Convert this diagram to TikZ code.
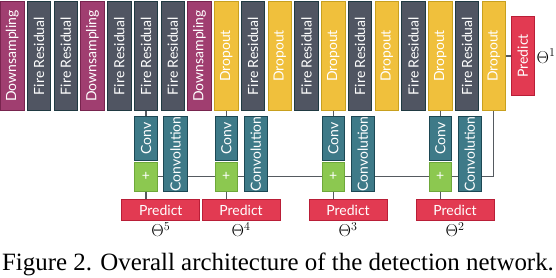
\documentclass[tikz,border=0pt]{standalone}
\usepackage{fontspec}
\usepackage{graphicx}
\newfontfamily\blockfont{Lato}
\newfontfamily\captionfont{Liberation Serif}
\usetikzlibrary{positioning, calc}

\definecolor{downfill}{RGB}{160,62,112}
\definecolor{downline}{RGB}{120,36,78}
\definecolor{firefill}{RGB}{80,85,98}
\definecolor{fireline}{RGB}{32,58,66}
\definecolor{dropfill}{RGB}{240,192,60}
\definecolor{dropline}{RGB}{200,160,30}
\definecolor{convfill}{RGB}{62,122,136}
\definecolor{convline}{RGB}{28,72,84}
\definecolor{plusfill}{RGB}{140,200,80}
\definecolor{plusline}{RGB}{110,168,58}
\definecolor{predfill}{RGB}{226,58,82}
\definecolor{predline}{RGB}{185,30,55}
\definecolor{linkgray}{RGB}{85,90,96}

\newcommand{\vlabel}[1]{\rotatebox{90}{#1}}

\begin{document}
\begin{tikzpicture}[
			x=1pt, y=1pt,
			node distance=2.25pt,
			block/.style={draw, line width=1pt, inner sep=0pt, text=white, font=\blockfont\fontsize{14}{14}\selectfont},
			down/.style={block, fill=downfill, draw=downline, minimum width=23.5pt, minimum height=109pt},
			fire/.style={block, fill=firefill, draw=fireline, minimum width=23.5pt, minimum height=109pt},
			drop/.style={block, fill=dropfill, draw=dropline, minimum width=23.5pt, minimum height=109pt},
			conv/.style={block, fill=convfill, draw=convline, minimum width=22.5pt, minimum height=44pt},
			convo/.style={block, fill=convfill, draw=convline, minimum width=23.5pt, minimum height=75pt},
			plus/.style={block, fill=plusfill, draw=plusline, minimum width=22.5pt, minimum height=29pt},
			predict/.style={block, fill=predfill, draw=predline, minimum width=78pt, minimum height=21.5pt},
			predtop/.style={predict, minimum width=22.5pt, minimum height=78pt},
			theta/.style={inner sep=0pt, font=\fontsize{17}{19}\selectfont},
			link/.style={draw=linkgray, line width=1.1pt}
			]
			\useasboundingbox (0,0) rectangle (556,-278);
			
			% Backbone
			\node[down] (down1) at (12.25,-56) {\vlabel{Downsampling}};
			\node[fire, right=of down1] (fire1) {\vlabel{Fire Residual}};
			\node[fire, right=of fire1] (fire2) {\vlabel{Fire Residual}};
			\node[down, right=of fire2] (down2) {\vlabel{Downsampling}};
			\node[fire, right=of down2] (fire3) {\vlabel{Fire Residual}};
			\node[fire, right=of fire3] (fire4) {\vlabel{Fire Residual}};
			\node[fire, right=of fire4] (fire5) {\vlabel{Fire Residual}};
			\node[down, right=of fire5] (down3) {\vlabel{Downsampling}};
			\node[drop, right=of down3] (drop1) {\vlabel{Dropout}};
			\node[fire, right=of drop1] (fire6) {\vlabel{Fire Residual}};
			\node[drop, right=of fire6] (drop2) {\vlabel{Dropout}};
			\node[fire, right=of drop2] (fire7) {\vlabel{Fire Residual}};
			\node[drop, right=of fire7] (drop3) {\vlabel{Dropout}};
			\node[fire, right=of drop3] (fire8) {\vlabel{Fire Residual}};
			\node[drop, right=of fire8] (drop4) {\vlabel{Dropout}};
			\node[fire, right=of drop4] (fire9) {\vlabel{Fire Residual}};
			\node[drop, right=of fire9] (drop5) {\vlabel{Dropout}};
			\node[fire, right=of drop5] (fire10) {\vlabel{Fire Residual}};
			\node[drop, right=of fire10] (drop6) {\vlabel{Dropout}};
			
			% Top prediction
			\node[predtop, right=5pt of drop6] (predict1) {\vlabel{Predict}};
			\node[theta, right=2pt of predict1] (theta1) {$\Theta^1$};
			
			% Scale 5
			\node[conv, below=5pt of fire4] (conv5) {\vlabel{Conv}};
			\node[plus, below=0.7pt of conv5] (plus5) {+};
			\node[convo, anchor=north west] (convo5) at ([xshift=5.5pt]conv5.north east) {\vlabel{Convolution}};
			\node[predict, anchor=north] (predict5) at ($(plus5.south)!0.5!(convo5.south)+(0,-7)$) {Predict};
			\node[theta, below=1pt of predict5] (theta5) {$\Theta^5$};
			
			% Scale 4
			\node[conv, below=5pt of drop1] (conv4) {\vlabel{Conv}};
			\node[plus, below=0.7pt of conv4] (plus4) {+};
			\node[convo, anchor=north west] (convo4) at ([xshift=5.5pt]conv4.north east) {\vlabel{Convolution}};
			\node[predict, anchor=north] (predict4) at ($(plus4.south)!0.5!(convo4.south)+(0,-7)$) {Predict};
			\node[theta, below=1pt of predict4] (theta4) {$\Theta^4$};
			
			% Scale 3
			\node[conv, below=5pt of drop3] (conv3) {\vlabel{Conv}};
			\node[plus, below=0.7pt of conv3] (plus3) {+};
			\node[convo, anchor=north west] (convo3) at ([xshift=5.5pt]conv3.north east) {\vlabel{Convolution}};
			\node[predict, anchor=north] (predict3) at ($(plus3.south)!0.5!(convo3.south)+(0,-7)$) {Predict};
			\node[theta, below=1pt of predict3] (theta3) {$\Theta^3$};
			
			% Scale 2
			\node[conv, below=5pt of drop5] (conv2) {\vlabel{Conv}};
			\node[plus, below=0.7pt of conv2] (plus2) {+};
			\node[convo, anchor=north west] (convo2) at ([xshift=5.5pt]conv2.north east) {\vlabel{Convolution}};
			\node[predict, anchor=north] (predict2) at ($(plus2.south)!0.5!(convo2.south)+(0,-7)$) {Predict};
			\node[theta, below=1pt of predict2] (theta2) {$\Theta^2$};
			
			% Caption
			\node[anchor=base, inner sep=0pt, font=\captionfont\fontsize{24.9}{28}\selectfont] (caption) at (278,-270) {Figure 2. Overall architecture of the detection network.};
			
			% Taps from the backbone
			\draw[link] (fire4) -- (conv5);
			\draw[link] (drop1) -- (conv4);
			\draw[link] (drop3) -- (conv3);
			\draw[link] (drop5) -- (conv2);
			\draw[link] (drop6) -- (predict1);
			
			% Sums to predictions
			\draw[link] (plus5.south) -- (plus5.south |- predict5.north);
			\draw[link] (plus4.south) -- (plus4.south |- predict4.north);
			\draw[link] (plus3.south) -- (plus3.south |- predict3.north);
			\draw[link] (plus2.south) -- (plus2.south |- predict2.north);
			
			% Top-down path
			\draw[link] (plus2 -| convo2.east) -| (drop6.south);
			\draw[link] (plus2.east) -- (plus2 -| convo2.west);
			\draw[link] (plus3 -| convo3.east) -- (plus2.west);
			\draw[link] (plus3.east) -- (plus3 -| convo3.west);
			\draw[link] (plus4 -| convo4.east) -- (plus3.west);
			\draw[link] (plus4.east) -- (plus4 -| convo4.west);
			\draw[link] (plus5 -| convo5.east) -- (plus4.west);
			\draw[link] (plus5.east) -- (plus5 -| convo5.west);
			
		\end{tikzpicture}
\end{document}
